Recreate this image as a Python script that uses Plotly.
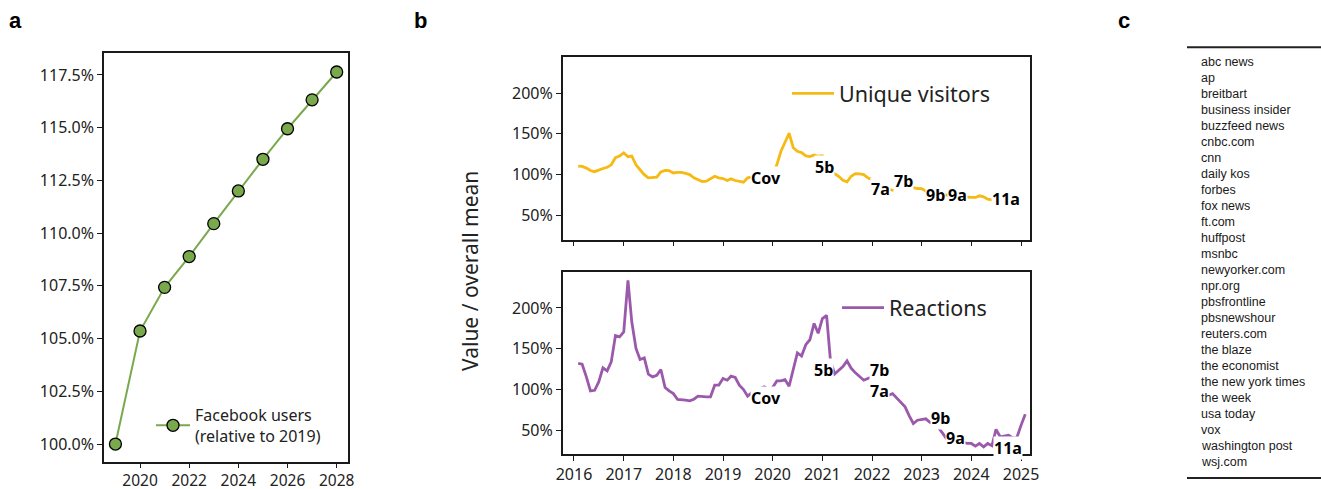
import plotly.graph_objects as go
import pandas as pd

W, H = 1321, 489

# ---------------- Panel a data ----------------
fb_years = [2019, 2020, 2021, 2022, 2023, 2024, 2025, 2026, 2027, 2028]
fb_users = [100.0, 105.36, 107.43, 108.89, 110.45, 112.0, 113.5, 114.95, 116.32, 117.64]
fb_yticks = [100.0, 102.5, 105.0, 107.5, 110.0, 112.5, 115.0, 117.5]
fb_xticks = [2020, 2022, 2024, 2026, 2028]

# ---------------- Panel b data (monthly, Feb 2016 - Feb 2025) ----------------
months = pd.date_range("2016-02-01", "2025-02-01", freq="MS")

unique_visitors = [
    110.5, 110, 108, 105, 103.6, 106, 107.5, 109, 112, 120.7, 122.8,            # 2016
    126.7, 122, 122.8, 112, 106, 100, 96, 96, 96.8, 103.2, 105.2, 104.8,        # 2017
    102, 102.8, 102.8, 101.5, 100, 96, 93.5, 91.6, 92, 95, 98, 96,              # 2018
    95.2, 92.8, 94.8, 92.8, 92, 90.8, 96, 97, 98, 99, 100, 101,                 # 2019
    100, 112, 128, 140, 150.7, 133, 128.5, 127, 123, 122, 124, 122.5,           # 2020
    123, 115, 105, 101, 98, 93, 91.2, 98, 101.2, 101, 100, 96,                  # 2021
    94, 90, 87, 84, 82, 81, 80, 81, 82.8, 83.5, 84, 83,                         # 2022
    82.8, 80, 79, 78, 77, 76, 75, 74, 73.5, 73, 72.5, 72,                       # 2023
    72, 72, 74, 72.8, 70, 69, 68.5, 68, 68, 67.5, None, None,                   # 2024
    None, None,                                                                 # 2025
]

reactions = [
    131.9, 131, 115.5, 98.3, 99, 109.3, 126.5, 122.8, 133.9, 166.2, 164.5,      # 2016
    170.6, 234, 183, 150.3, 136.8, 138.8, 118.8, 115.5, 117.5, 124.5, 102.5, 98.3,  # 2017
    95, 87.7, 87.7, 87, 86, 88.1, 91.8, 91, 91, 91, 105.3, 105.3,               # 2018
    113.5, 111.4, 116.3, 114.7, 105.3, 100, 91.8, 96, 99, 101.2, 103.2, 100,    # 2019
    102.4, 110.5, 110.5, 112.2, 104, 125, 145, 141, 155, 161, 181, 169,         # 2020
    187, 191, 136, 119, 124, 128, 135, 126, 120.4, 116, 111.4, 113.5,           # 2021
    115.5, 111.4, 115.5, 105.3, 93, 95, 90, 84.8, 78.7, 68, 58.3, 62.3,         # 2022
    63.6, 64, 60, 57, 54, 47, 40, 37, 36, 36, 35.7, 33.8,                       # 2023
    33.8, 30.5, 33.8, 29.6, 33.8, 31, 51, 42, 43, 44, 40.6, 41,                 # 2024
    56, 69.7,                                                                   # 2025
]

b_yticks = [50, 100, 150, 200]
b_xticks = [f"{y}-01-01" for y in range(2016, 2026)]
b_xticklabels = [str(y) for y in range(2016, 2026)]

event_names = ["Cov", "5b", "7a", "7b", "9b", "9a", "11a"]
visitor_label_dates = ["2019-11-10", "2021-01-15", "2022-03-03", "2022-08-18",
                       "2023-04-16", "2023-09-20", "2024-09-09"]
visitor_label_vals = [95.6, 109.4, 82.6, 92.0, 75.4, 75.4, 69.7]
reaction_label_dates = ["2019-11-10", "2021-01-08", "2022-02-25", "2022-02-28",
                        "2023-05-22", "2023-09-06", "2024-09-25"]
reaction_label_vals = [89.9, 123.4, 98.2, 123.4, 65.4, 40.9, 28.6]

# ---------------- Panel c data ----------------
outlets = ["abc news", "ap", "breitbart", "business insider", "buzzfeed news",
           "cnbc.com", "cnn", "daily kos", "forbes", "fox news", "ft.com",
           "huffpost", "msnbc", "newyorker.com", "npr.org", "pbsfrontline",
           "pbsnewshour", "reuters.com", "the blaze", "the economist",
           "the new york times", "the week", "usa today", "vox",
           "washington post", "wsj.com"]

# ---------------- Styling ----------------
GREEN = "#79a84d"
YELLOW = "#f5ba14"
PURPLE = "#9b59ab"
AXC = "#1a1a1a"
FONT = "Noto Sans"


def px_x(p):
    return p / W


def px_y(p):
    return 1 - p / H


fig = go.Figure()

# Panel a
fig.add_trace(go.Scatter(
    x=fb_years, y=fb_users, mode="lines+markers",
    name="Facebook users<br>(relative to 2019)",
    line=dict(color=GREEN, width=2),
    marker=dict(size=12, color=GREEN, line=dict(color="black", width=1.3)),
    xaxis="x", yaxis="y", legend="legend",
))

# Panel b top
fig.add_trace(go.Scatter(
    x=months, y=unique_visitors, mode="lines", name="Unique visitors",
    line=dict(color=YELLOW, width=2.8), connectgaps=False,
    xaxis="x2", yaxis="y2", legend="legend2",
))
# Panel b bottom
fig.add_trace(go.Scatter(
    x=months, y=reactions, mode="lines", name="Reactions",
    line=dict(color=PURPLE, width=2.8),
    xaxis="x3", yaxis="y3", legend="legend3",
))

annotations = []
for name, d, v in zip(event_names, visitor_label_dates, visitor_label_vals):
    annotations.append(dict(x=d, y=v, xref="x2", yref="y2", text=f"<b>{name}</b>",
                            showarrow=False, bgcolor="white", borderpad=0,
                            font=dict(family=FONT, size=16, color="black")))
for name, d, v in zip(event_names, reaction_label_dates, reaction_label_vals):
    annotations.append(dict(x=d, y=v, xref="x3", yref="y3", text=f"<b>{name}</b>",
                            showarrow=False, bgcolor="white", borderpad=0,
                            font=dict(family=FONT, size=16, color="black")))

# y title for panel b
annotations.append(dict(x=px_x(470), y=px_y(271), xref="paper", yref="paper",
                        text="Value / overall mean", textangle=-90, showarrow=False,
                        font=dict(family=FONT, size=21, color="#222")))

# Panel letters
for letter, xp in [("a", 7), ("b", 412), ("c", 1116)]:
    annotations.append(dict(x=px_x(xp), y=px_y(21), xref="paper", yref="paper",
                            xanchor="left", yanchor="middle", text=f"<b>{letter}</b>",
                            showarrow=False,
                            font=dict(family="Liberation Sans", size=22, color="black")))

# Panel c rows
for i, name in enumerate(outlets):
    annotations.append(dict(x=0.09, y=i, xref="x4", yref="y4", xanchor="left",
                            yanchor="middle", text=name, showarrow=False,
                            font=dict(family="Liberation Sans", size=12.5, color="#1a1a1a")))

shapes = [
    dict(type="line", xref="paper", yref="paper", x0=px_x(1187), x1=1,
         y0=px_y(47.3), y1=px_y(47.3), line=dict(color="#222", width=2)),
    dict(type="line", xref="paper", yref="paper", x0=px_x(1187), x1=1,
         y0=px_y(478), y1=px_y(478), line=dict(color="#222", width=2)),
]

axis_common = dict(showline=True, linecolor=AXC, linewidth=1.5, mirror=True,
                   ticks="outside", ticklen=5, tickwidth=1.3, tickcolor=AXC,
                   showgrid=False, zeroline=False, automargin=False,
                   tickfont=dict(family=FONT, size=16, color="#222"))

xa_common = dict(axis_common)
xa_common.update(ticklen=4, tickfont=dict(family=FONT, size=15.5, color="#222"))

fig.update_layout(
    template="none",
    width=W, height=H,
    margin=dict(l=0, r=0, t=0, b=0, pad=0, autoexpand=False),
    paper_bgcolor="white", plot_bgcolor="white",
    font=dict(family=FONT, color="#222"),
    showlegend=True,
    xaxis=dict(domain=[px_x(104), px_x(348)], range=[2018.535, 2028.46],
               tickvals=fb_xticks, ticktext=[str(v) for v in fb_xticks],
               anchor="y", **xa_common),
    yaxis=dict(domain=[px_y(462), px_y(53)], range=[99.15, 118.54],
               tickvals=fb_yticks, ticktext=[f"{v:.1f}%" for v in fb_yticks],
               anchor="x", **axis_common),
    xaxis2=dict(domain=[px_x(562.7), px_x(1030)], type="date",
                range=["2015-10-10", "2025-03-08"], tickvals=b_xticks,
                ticktext=b_xticklabels, showticklabels=False, anchor="y2",
                **axis_common),
    yaxis2=dict(domain=[px_y(239.5), px_y(56.7)], range=[20.5, 244.5],
                tickvals=b_yticks, ticktext=[f"{v}%" for v in b_yticks],
                anchor="x2", **axis_common),
    xaxis3=dict(domain=[px_x(562.7), px_x(1030)], type="date",
                range=["2015-10-10", "2025-03-08"], tickvals=b_xticks,
                ticktext=b_xticklabels, anchor="y3", **axis_common),
    yaxis3=dict(domain=[px_y(454.3), px_y(271.7)], range=[20.5, 244.5],
                tickvals=b_yticks, ticktext=[f"{v}%" for v in b_yticks],
                anchor="x3", **axis_common),
    xaxis4=dict(domain=[px_x(1187), 1], range=[0, 1], visible=False, anchor="y4"),
    yaxis4=dict(domain=[px_y(478), px_y(47.3)], range=[26.03, -0.94],
                visible=False, anchor="x4"),
    legend=dict(x=px_x(151), y=px_y(425.5), xanchor="left", yanchor="middle",
                itemwidth=34,
                bgcolor="rgba(0,0,0,0)", font=dict(family=FONT, size=16, color="#222")),
    legend2=dict(x=px_x(787), y=px_y(93.3), xanchor="left", yanchor="middle",
                 itemwidth=42,
                 bgcolor="rgba(0,0,0,0)", font=dict(family=FONT, size=21.5, color="#222")),
    legend3=dict(x=px_x(837), y=px_y(307.7), xanchor="left", yanchor="middle",
                 itemwidth=42,
                 bgcolor="rgba(0,0,0,0)", font=dict(family=FONT, size=21.5, color="#222")),
    annotations=annotations,
    shapes=shapes,
)

fig.write_html("out.html", config={"displayModeBar": False},
               post_script="document.body.style.margin='0px';")
